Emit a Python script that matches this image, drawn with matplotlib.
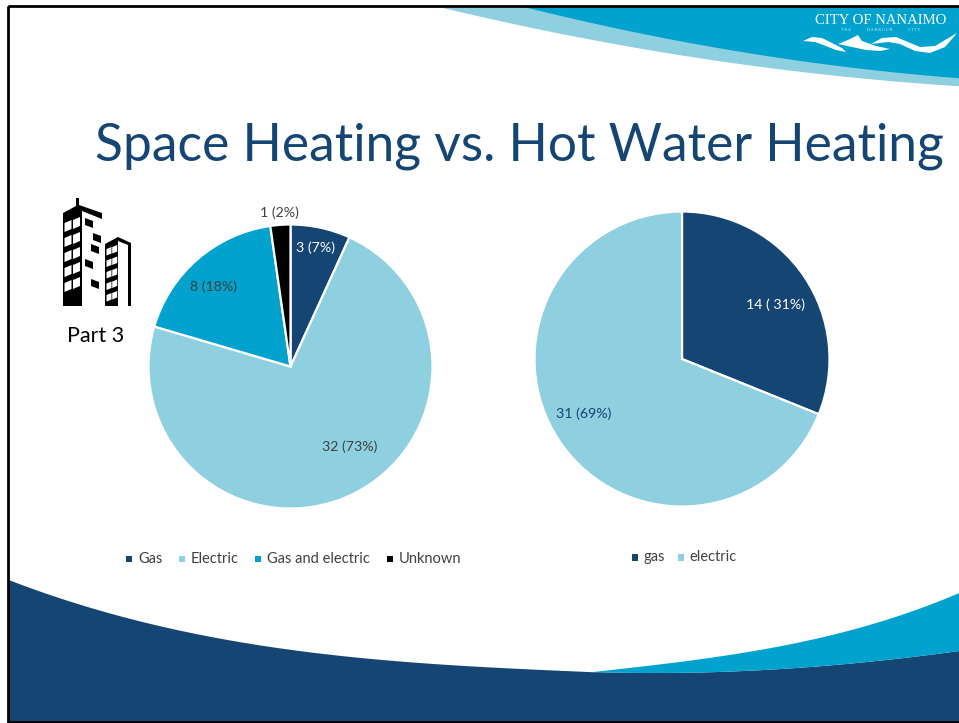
import matplotlib

matplotlib.use("Agg")

import matplotlib.pyplot as plt
from matplotlib.patches import Polygon, Rectangle
import numpy as np

W, H = 959, 723

NAVY = "#154673"
LIGHT = "#8ecfe0"
TEAL = "#01a2ce"
BLACK = "#000000"
GREY = "#404040"

left_labels = ["Gas", "Electric", "Gas and electric", "Unknown"]
left_values = [3, 32, 8, 1]
left_texts = ["3 (7%)", "32 (73%)", "8 (18%)", "1 (2%)"]
left_colors = [NAVY, LIGHT, TEAL, BLACK]

right_labels = ["gas", "electric"]
right_values = [14, 31]
right_texts = ["14 ( 31%)", "31 (69%)"]
right_colors = [NAVY, LIGHT]

plt.rcParams["font.family"] = ["Lato", "DejaVu Sans"]


def smooth(points, n=60, deg=3):
    # smooth curve through the points
    pts = np.array(points, dtype=float)
    t = np.linspace(pts[0, 0], pts[-1, 0], n)
    coef = np.polyfit(pts[:, 0], pts[:, 1], min(deg, len(pts) - 1))
    return np.column_stack([t, np.polyval(coef, t)])


def draw_pie(fig, cx, cy, r, values, colors):
    ax = fig.add_axes([(cx - r) / W, 1 - (cy + r) / H, 2 * r / W, 2 * r / H])
    ax.pie(
        values,
        colors=colors,
        startangle=90,
        counterclock=False,
        radius=1.0,
        wedgeprops={"edgecolor": "white", "linewidth": 1.6},
    )
    ax.set_xlim(-1, 1)
    ax.set_ylim(-1, 1)
    ax.set_aspect("equal")
    ax.axis("off")
    return ax


fig = plt.figure(figsize=(W / 100, H / 100), dpi=100, facecolor="white")

bg = fig.add_axes([0, 0, 1, 1])
bg.set_xlim(0, W)
bg.set_ylim(H, 0)
bg.axis("off")

# top swooshes
light_edge = smooth([(443, 7), (500, 21), (567, 37), (640, 49), (700, 58), (800, 70), (959, 87)], deg=2)
teal_edge = smooth([(523, 7), (600, 25), (640, 33), (700, 44), (800, 62), (959, 78)], deg=2)
bg.add_patch(Polygon(np.vstack([light_edge, [(959, 7)]]), fc=LIGHT, ec="none"))
bg.add_patch(Polygon(np.vstack([teal_edge, [(959, 7)]]), fc=TEAL, ec="none"))

# bottom swooshes
navy_top = smooth([(9, 580), (122, 617), (245, 643), (367, 658), (489, 668), (593, 672)])
teal_top = smooth([(593, 672), (673, 663), (795, 643), (887, 620), (959, 593)])
teal_low = smooth([(593, 672), (673, 673), (795, 668), (887, 660), (959, 651)])
bg.add_patch(Polygon(np.vstack([navy_top, teal_low[1:], [(959, 722), (9, 722)]]), fc=NAVY, ec="none"))
bg.add_patch(Polygon(np.vstack([teal_top, teal_low[::-1]]), fc=TEAL, ec="none"))

# slide frame
bg.add_patch(Rectangle((8, 6), 960, 715.5, fc="none", ec="black", lw=2))

# logo
bg.text(881, 20.5, "CITY OF NANAIMO", color="white", fontsize=10.6, family="Liberation Serif",
        ha="center", va="center")
bg.text(881, 30, "T H E                H A R B O U R                C I T Y", color="#d5eef6", fontsize=3,
        family="Liberation Serif", ha="center", va="center")
waves = [
    [(803, 41), (812, 37), (822, 38), (832, 43), (842, 48), (846, 52), (836, 50), (826, 46), (815, 42)],
    [(838, 44), (848, 40), (858, 35), (862, 41), (876, 46), (890, 49), (880, 51), (866, 50), (852, 47)],
    [(871, 44), (882, 38), (896, 37), (908, 42), (920, 47), (935, 46), (957, 33), (945, 47), (930, 53),
     (915, 51), (900, 44), (888, 42)],
]
for wave in waves:
    bg.add_patch(Polygon(wave, fc="white", ec="none"))

# title
bg.text(519, 146, "Space Heating vs. Hot Water Heating", color=NAVY, fontsize=37.1,
        ha="center", va="center")

# building icon, left tower
bg.add_patch(Polygon([(63, 306), (63, 213), (76, 206), (76, 198), (79, 198), (79, 205),
                      (102, 213), (102, 219), (82, 211), (82, 306)], fc="black", ec="none"))
for row in range(5):
    top = 220 + row * 15
    for col in range(2):
        x0 = 64.5 + col * 8.5
        bg.add_patch(Polygon([(x0, top + 3 - col * 3), (x0 + 7, top - col * 3),
                              (x0 + 7, top + 9 - col * 3), (x0, top + 12 - col * 3)],
                             fc="white", ec="none"))
for x0, y0 in [(85, 218), (93, 233), (91, 244), (85, 259), (91, 279)]:
    bg.add_patch(Polygon([(x0, y0), (x0 + 8, y0 + 3), (x0 + 8, y0 + 10), (x0, y0 + 7)],
                         fc="black", ec="none"))

# building icon, right tower
bg.add_patch(Polygon([(105, 306), (105, 244), (118, 237), (131, 243), (131, 306), (128, 306),
                      (128, 245), (118, 241), (118, 306)], fc="black", ec="none"))
for row in range(5):
    top = 247 + row * 11.5
    for col in range(2):
        x0 = 106.5 + col * 5.7
        bg.add_patch(Polygon([(x0, top + 2 - col * 2), (x0 + 5, top - col * 2),
                              (x0 + 5, top + 6.5 - col * 2), (x0, top + 8.5 - col * 2)],
                             fc="white", ec="none"))

bg.text(96, 336, "Part 3", color="black", fontsize=15.5, ha="center", va="center")

# pies
draw_pie(fig, 290.5, 366.5, 142, left_values, left_colors)
draw_pie(fig, 682, 359, 147.5, right_values, right_colors)

over = fig.add_axes([0, 0, 1, 1])
over.set_xlim(0, W)
over.set_ylim(H, 0)
over.axis("off")

left_pos = [(315, 248), (350, 447), (213, 287), (279, 213)]
left_cols = ["white", GREY, GREY, GREY]
for (x, y), s, c in zip(left_pos, left_texts, left_cols):
    over.text(x, y, s, color=c, fontsize=10.2, ha="center", va="center")

right_pos = [(776, 305), (584, 414)]
right_cols = ["white", NAVY]
for (x, y), s, c in zip(right_pos, right_texts, right_cols):
    over.text(x, y, s, color=c, fontsize=10.2, ha="center", va="center")

# legends
left_lx = [126, 179, 255, 387]
for x, s, c in zip(left_lx, left_labels, left_colors):
    over.add_patch(Rectangle((x, 555.5), 6, 6.5, fc=c, ec="none"))
    over.text(x + 12, 559, s, color=GREY, fontsize=10.5, ha="left", va="center")

right_lx = [632, 678]
for x, s, c in zip(right_lx, right_labels, right_colors):
    over.add_patch(Rectangle((x, 554), 6, 6.5, fc=c, ec="none"))
    over.text(x + 11, 557, s, color=GREY, fontsize=10.5, ha="left", va="center")

fig.savefig("out.png", dpi=100)
plt.close(fig)
